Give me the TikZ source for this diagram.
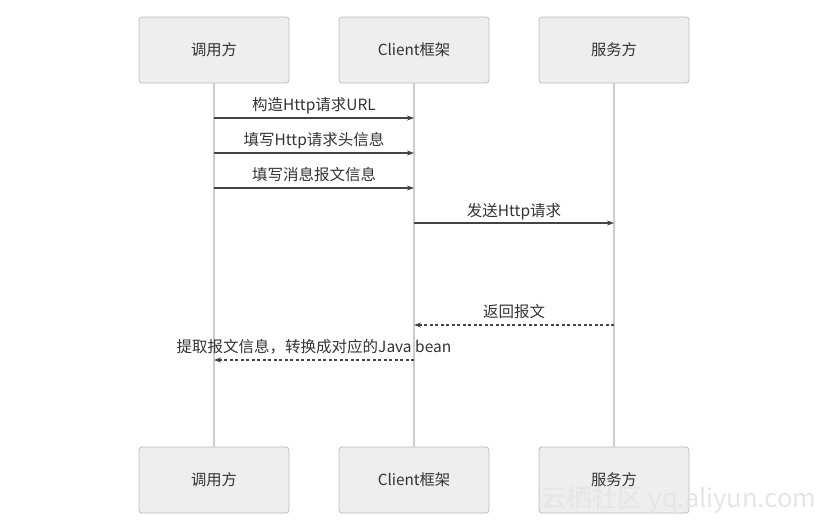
\documentclass[tikz,border=0pt]{standalone}
\usepackage{fontspec}
\setmainfont{Noto Sans CJK SC}
\usetikzlibrary{arrows.meta}
\definecolor{boxfill}{HTML}{EEEEEE}
\definecolor{boxline}{HTML}{BBBBBB}
\definecolor{lifeline}{HTML}{CCCCCC}
\definecolor{msg}{HTML}{444444}
\definecolor{txt}{HTML}{333333}
\tikzset{
  actor/.style={draw=boxline, fill=boxfill, rounded corners=3pt, minimum width=150pt, minimum height=66pt, line width=0.8pt, font=\fontsize{15.3}{17}\selectfont, text=txt, inner sep=0pt},
  lifel/.style={draw=lifeline, line width=1.3pt},
  call/.style={draw=msg, line width=1.2pt, -{Stealth[length=7pt,width=5pt]}},
  reply/.style={draw=msg, line width=1.2pt, dash pattern=on 3pt off 2.5pt, -{Stealth[length=7pt,width=5pt]}},
  lbl/.style={font=\fontsize{15.5}{17}\selectfont, text=txt, inner sep=0pt, anchor=base},
}
\begin{document}
\begin{tikzpicture}[x=1pt,y=-1pt]
\useasboundingbox (0,0) rectangle (825,522);
% top actors
\node[actor] (a1) at (214,50) {调用方};
\node[actor] (a2) at (414,50) {Client框架};
\node[actor] (a3) at (614,50) {服务方};
% bottom actors
\node[actor] (b1) at (214,480) {调用方};
\node[actor] (b2) at (414,480) {Client框架};
\node[actor] (b3) at (614,480) {服务方};
% lifelines
\draw[lifel] (a1) -- (b1);
\draw[lifel] (a2) -- (b2);
\draw[lifel] (a3) -- (b3);
% message anchor coordinates
\coordinate (m1s) at (214,118); \coordinate (m1e) at (414,118);
\coordinate (m2s) at (214,153); \coordinate (m2e) at (414,153);
\coordinate (m3s) at (214,188); \coordinate (m3e) at (414,188);
\coordinate (m4s) at (414,223); \coordinate (m4e) at (614,223);
\coordinate (m5s) at (614,325); \coordinate (m5e) at (414,325);
\coordinate (m6s) at (414,360); \coordinate (m6e) at (214,360);
\draw[call] (m1s) -- (m1e);
\draw[call] (m2s) -- (m2e);
\draw[call] (m3s) -- (m3e);
\draw[call] (m4s) -- (m4e);
\draw[reply] (m5s) -- (m5e);
\draw[reply] (m6s) -- (m6e);
\node[lbl] (l1) at (314,110) {构造Http请求URL};
\node[lbl] (l2) at (314,145) {填写Http请求头信息};
\node[lbl] (l3) at (314,180) {填写消息报文信息};
\node[lbl] (l4) at (514,216) {发送Http请求};
\node[lbl] (l5) at (514,317) {返回报文};
\node[lbl] (l6) at (314,352) {提取报文信息，转换成对应的Java bean};
% watermark
\node[font=\fontsize{25.5}{27}\selectfont, text=black!10, inner sep=0pt, anchor=base west] (wm) at (541,507) {云栖社区 yq.aliyun.com};
\end{tikzpicture}
\end{document}
